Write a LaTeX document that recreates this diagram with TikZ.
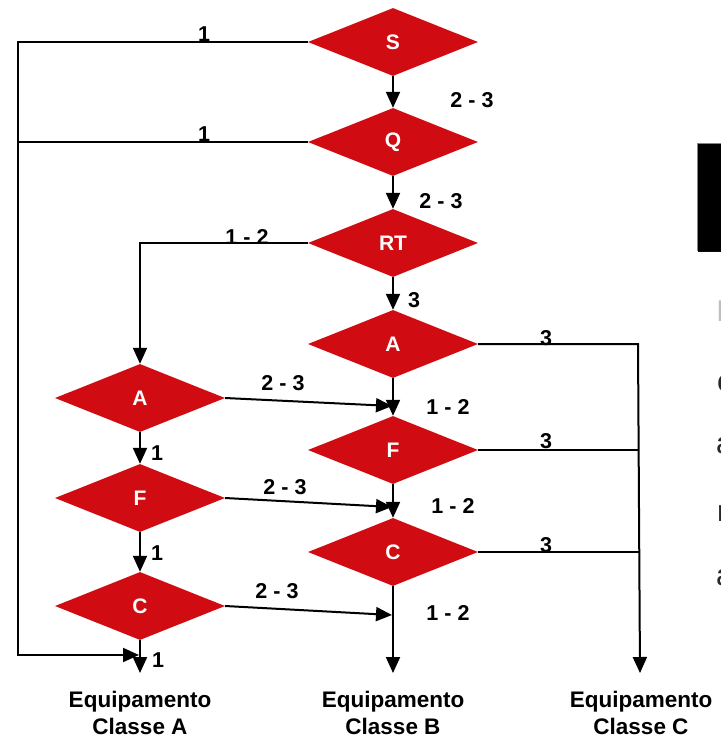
\documentclass[tikz,border=0pt]{standalone}
\usepackage{fontspec}
\setmainfont{Liberation Sans}
\usetikzlibrary{shapes.geometric,arrows.meta}
\definecolor{dred}{RGB}{208,12,18}
\definecolor{txtgray}{RGB}{40,40,40}
\begin{document}
\begin{tikzpicture}[x=1pt,y=-1pt,
  dia/.style={diamond,fill=dred,minimum width=170pt,minimum height=68pt,inner sep=0pt,text=white,font=\bfseries\fontsize{21}{21}\selectfont},
  ln/.style={line width=2pt},
  arr/.style={line width=2pt,-{Triangle[width=14pt,length=16pt]}},
  lbl/.style={font=\bfseries\fontsize{21.5}{21.5}\selectfont,inner sep=0pt},
  eq/.style={font=\bfseries\fontsize{22.5}{27}\selectfont,align=center,inner sep=0pt},
  frag/.style={font=\fontsize{30}{30}\selectfont,text=txtgray,anchor=west,inner sep=0pt}]
\useasboundingbox (0,0) rectangle (721,740);
% diamonds
\node[dia] (S) at (393,42) {S};
\node[dia] (Q) at (393,142) {Q};
\node[dia] (RT) at (393,243) {RT};
\node[dia] (A2) at (393,344) {A};
\node[dia] (F2) at (393,450) {F};
\node[dia] (C2) at (393,552) {C};
\node[dia] (A1) at (140,398) {A};
\node[dia] (F1) at (140,498) {F};
\node[dia] (C1) at (140,606) {C};
% coordinates
\coordinate (L1) at (18,42);
\coordinate (L2) at (18,142);
\coordinate (Lb) at (18,655);
\coordinate (CA) at (139,655);
\coordinate (EA) at (140,673);
\coordinate (EB) at (393,673);
\coordinate (R1) at (638,344);
\coordinate (R2) at (638,450);
\coordinate (R3) at (640,552);
\coordinate (EC) at (640,673);
\coordinate (T1) at (392,406);
\coordinate (T2) at (392,507);
\coordinate (T3) at (392,615);
% connectors
\draw[arr] (S.west) -- (L1) -- (Lb) -- (CA);
\draw[ln] (Q.west) -- (L2);
\draw[arr] (S.south) -- (Q.north);
\draw[arr] (Q.south) -- (RT.north);
\draw[arr] (RT.west) -| (A1.north);
\draw[arr] (RT.south) -- (A2.north);
\draw[arr] (A2.south) -- (F2.north);
\draw[arr] (F2.south) -- (C2.north);
\draw[arr] (C2.south) -- (EB);
\draw[arr] (A2.east) -- (R1) -- (EC);
\draw[ln] (F2.east) -- (R2);
\draw[ln] (C2.east) -- (R3);
\draw[arr] (A1.south) -- (F1.north);
\draw[arr] (F1.south) -- (C1.north);
\draw[arr] (C1.south) -- (EA);
\draw[arr] (A1.east) -- (T1);
\draw[arr] (F1.east) -- (T2);
\draw[arr] (C1.east) -- (T3);
% labels
\node[lbl] (l1) at (204,34) {1};
\node[lbl] (l2) at (204,134) {1};
\node[lbl] (l3) at (472,100) {2 - 3};
\node[lbl] (l4) at (441,201) {2 - 3};
\node[lbl] (l5) at (247,237) {1 - 2};
\node[lbl] (l6) at (414,300) {3};
\node[lbl] (l7) at (546,338) {3};
\node[lbl] (l8) at (546,441) {3};
\node[lbl] (l9) at (546,545) {3};
\node[lbl] (l10) at (448,407) {1 - 2};
\node[lbl] (l11) at (453,506) {1 - 2};
\node[lbl] (l12) at (448,613) {1 - 2};
\node[lbl] (l13) at (283,383) {2 - 3};
\node[lbl] (l14) at (285,487) {2 - 3};
\node[lbl] (l15) at (277,591) {2 - 3};
\node[lbl] (l16) at (157,453) {1};
\node[lbl] (l17) at (157,553) {1};
\node[lbl] (l18) at (158,660) {1};
% bottom labels
\node[eq] (qA) at (140,713) {Equipamento\\Classe  A};
\node[eq] (qB) at (393,713) {Equipamento\\Classe  B};
\node[eq] (qC) at (641,713) {Equipamento\\Classe  C};
% cropped fragment at right edge
\begin{scope}
\clip (0,0) rectangle (721,740);
\fill[black] (697,143) rectangle (725,251);
\draw[blue!55,line width=1.5pt] (697.5,251) -- (697.5,143.5) -- (725,143.5);
\draw[blue!40!black,line width=1.5pt] (698,251.5) -- (725,251.5);
\node[frag,text=black!25] (f1) at (716,311) {I};
\node[frag] (f2) at (717,384) {c};
\node[frag] (f3) at (716,446) {a};
\node[frag] (f4) at (717,513) {r};
\node[frag] (f5) at (716,578) {a};
\end{scope}
\end{tikzpicture}
\end{document}
